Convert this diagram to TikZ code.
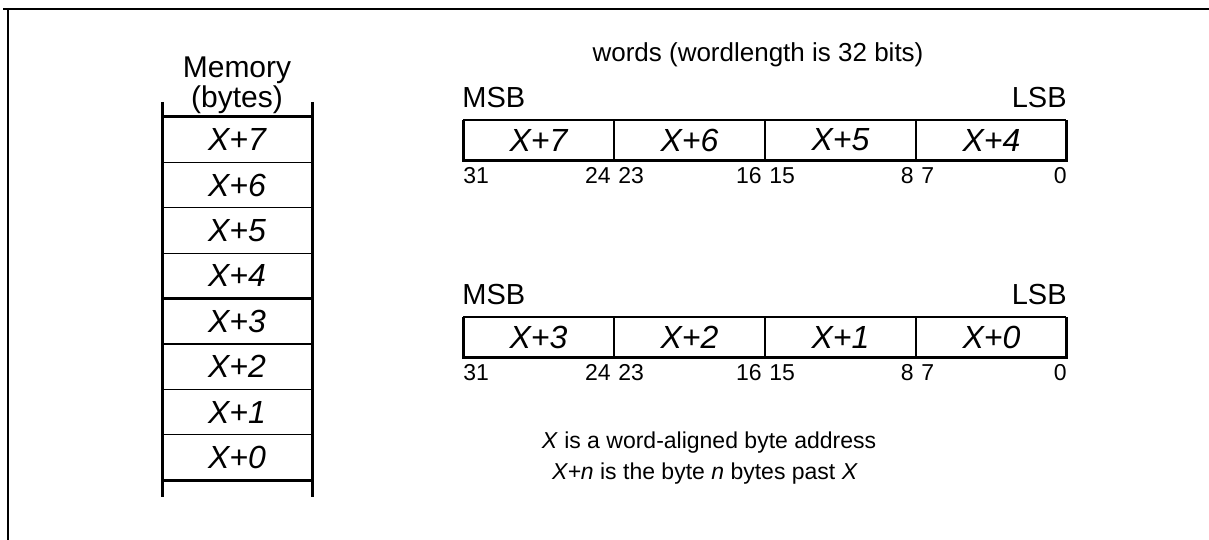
\documentclass[tikz,border=0pt]{standalone}
\usepackage{fontspec}
\setmainfont{Liberation Sans}
\begin{document}
\begin{tikzpicture}[x=0.5pt, y=-0.5pt,
        rail/.style={line width=1.5pt},
        sep/.style={line width=0.6pt},
        cell/.style={font=\fontsize{16}{18}\selectfont\itshape, inner sep=0pt},
        bitnum/.style={font=\fontsize{11.5}{13}\selectfont, inner sep=0pt},
        endlabel/.style={font=\fontsize{14.5}{16}\selectfont, inner sep=0pt},
        note/.style={font=\fontsize{11.5}{14}\selectfont, inner sep=0pt}]
        \useasboundingbox (0,0) rectangle (1209,540);
        % frame
        \draw[line width=1pt] (3,9) -- (1209,9);
        \draw[line width=0.75pt] (8,9) -- (8,540);

        % memory column
        \node[font=\fontsize{15}{11.5}\selectfont, align=center, anchor=south, inner sep=0pt] (memtitle) at (237,114) {Memory\\(bytes)};
        \draw[rail] (162,102) -- (162,497);
        \draw[rail] (312,102) -- (312,497);
        \foreach \k in {0,4,8}
            \draw[rail] (162,{117+45.4*\k}) -- (312,{117+45.4*\k});
        \foreach \k in {1,2,3,5,6,7}
            \draw[sep] (162,{117+45.4*\k}) -- (312,{117+45.4*\k});
        \foreach \n in {0,...,7}
            \node[cell] (mem\n) at (237,{457.5-45.4*\n}) {X+\n};

        % words
        \node[font=\fontsize{13}{15}\selectfont, inner sep=0pt, anchor=base] (wordtitle) at (758,62) {words (wordlength is 32 bits)};
        \foreach \w/\top in {1/120, 0/317} {
            \draw[line width=0.8pt] (463,\top) -- (1066,\top);
            \draw[rail] (463,\top) -- (463,{\top+40}) -- (1066,{\top+40}) -- (1066,\top);
            \foreach \d in {614,765,916}
                \draw[sep] (\d,\top) -- (\d,{\top+40});
            \foreach \b in {0,...,3} {
                \pgfmathtruncatemacro\n{4*\w+\b}
                \node[cell] (word\w byte\b) at ({991.5-151*\b},{\top+20}) {X+\n};
            }
            \node[endlabel, anchor=base west] (msb\w) at (462,{\top-13}) {MSB};
            \node[endlabel, anchor=base east] (lsb\w) at (1067,{\top-13}) {LSB};
            \node[bitnum, anchor=base west] (bitA\w) at (463,{\top+63}) {31};
            \node[bitnum, anchor=base east] (bitB\w) at (611,{\top+63}) {24};
            \node[bitnum, anchor=base west] (bitC\w) at (618,{\top+63}) {23};
            \node[bitnum, anchor=base east] (bitD\w) at (762,{\top+63}) {16};
            \node[bitnum, anchor=base west] (bitE\w) at (769,{\top+63}) {15};
            \node[bitnum, anchor=base east] (bitF\w) at (914,{\top+63}) {8};
            \node[bitnum, anchor=base west] (bitG\w) at (921,{\top+63}) {7};
            \node[bitnum, anchor=base east] (bitH\w) at (1067,{\top+63}) {0};
        }

        % notes
        \node[note, anchor=base] (noteX) at (709,448) {\textit{X} is a word-aligned byte address};
        \node[note, anchor=base] (noteN) at (705,479) {\textit{X+n} is the byte \textit{n} bytes past \textit{X}};
    \end{tikzpicture}
\end{document}
